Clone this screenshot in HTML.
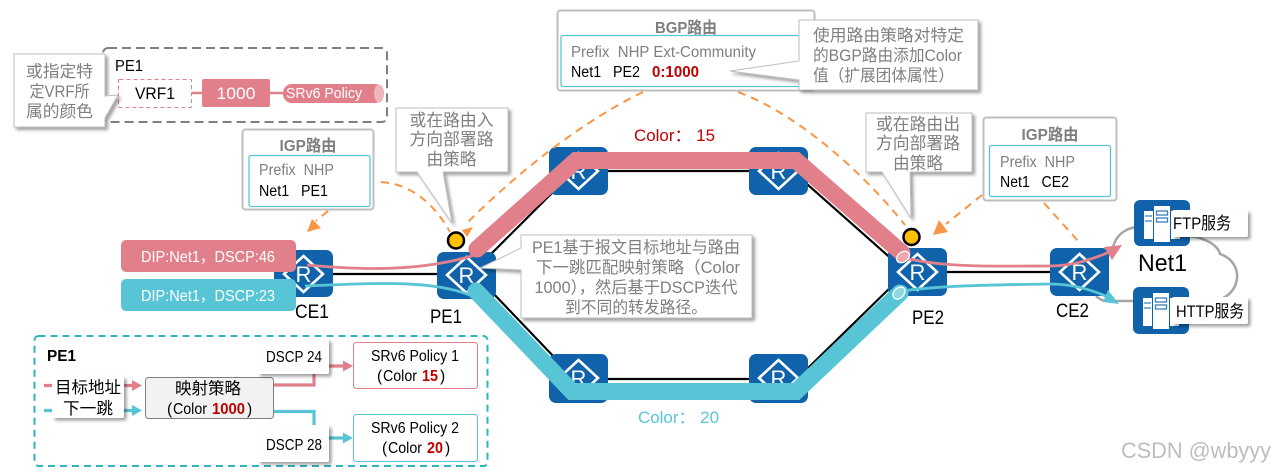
<!DOCTYPE html>
<html><head><meta charset="utf-8"><style>
html,body{margin:0;padding:0;background:#fff}
svg{display:block}
text{font-family:"Liberation Sans","Noto Sans CJK SC",sans-serif;white-space:pre}
.g{fill:#7f7f7f}
.k{fill:#000}
.w{fill:#fff}
.m{text-anchor:middle}
.b{font-weight:bold}
.r{fill:#c00000;font-weight:bold}
.or{fill:none;stroke:#f79646;stroke-width:2;stroke-dasharray:8 6}
</style></head><body>
<svg xmlns="http://www.w3.org/2000/svg" width="1275" height="472" viewBox="0 0 1275 472">
<defs>
<filter id="s" x="-20%" y="-20%" width="140%" height="140%"><feDropShadow dx="2.5" dy="2.5" stdDeviation="1.5" flood-color="#000" flood-opacity=".38"/></filter>
</defs>
<rect width="1275" height="472" fill="#fff"/>

<!-- cloud -->
<path d="M1113 247C1116 236 1124 229 1136 227M1190 236C1205 238 1218 245 1220 254C1232 258 1238 268 1237 278C1236 288 1231 294 1223 298M1133 301H1107C1103 301 1099 299 1096 296" fill="none" stroke="#a6a6a6" stroke-width="2.5"/>

<!-- black links -->
<g fill="none" stroke="#000" stroke-width="2.2">
<path d="M333 274H437"/>
<path d="M947 272H1050"/>
<path d="M490 255L555 190L565 171H795L808 185L895 262"/>
<path d="M490 290L555 358L565 379H795L808 368L895 283"/>
</g>

<!-- routers -->
<g fill="#1063ab">
<rect x="274" y="250" width="59" height="47" rx="7"/>
<rect x="437" y="252" width="59" height="47" rx="7"/>
<rect x="888" y="248" width="59" height="48" rx="7"/>
<rect x="1050" y="248" width="59" height="48" rx="7"/>
<rect x="549" y="147" width="59" height="48" rx="7"/>
<rect x="749" y="147" width="59" height="48" rx="7"/>
<rect x="549" y="354" width="59" height="49" rx="7"/>
<rect x="749" y="354" width="59" height="49" rx="7"/>
</g>
<g fill="none" stroke="#fff" stroke-width="2.6">
<path d="M303.500 256L323 274L303.500 292L284 274Z"/>
<path d="M466.500 257L486 275L466.500 293L447 275Z"/>
<path d="M917.500 254L937 272L917.500 290L898 272Z"/>
<path d="M1079.500 254L1099 272L1079.500 290L1060 272Z"/>
<path d="M578.500 153L598 171L578.500 189L559 171Z"/>
<path d="M778.500 153L798 171L778.500 189L759 171Z"/>
<path d="M578.500 360L598 378L578.500 396L559 378Z"/>
<path d="M778.500 360L798 378L778.500 396L759 378Z"/>
</g>
<g class="w" font-size="22">
<text x="303.500" y="282" class="w m">R</text>
<text x="466.500" y="283" class="w m">R</text>
<text x="917.500" y="280" class="w m">R</text>
<text x="1079.500" y="280" class="w m">R</text>
<text x="578.500" y="179" class="w m">R</text>
<text x="778.500" y="179" class="w m">R</text>
<text x="578.500" y="386" class="w m">R</text>
<text x="778.500" y="386" class="w m">R</text>
</g>

<!-- servers -->
<rect x="1134" y="200" width="56" height="46" rx="6" fill="#1063ab"/>
<rect x="1133" y="287" width="56" height="47" rx="6" fill="#1063ab"/>
<g fill="#fff">
<rect x="1144" y="211" width="9" height="28"/><rect x="1154" y="206" width="16" height="36"/><rect x="1171" y="211" width="9" height="28"/>
<rect x="1143" y="298" width="9" height="28"/><rect x="1153" y="293" width="16" height="36"/><rect x="1170" y="298" width="9" height="28"/>
</g>
<g fill="none" stroke="#3b7fbd" stroke-width="1.300">
<rect x="1156.500" y="211" width="11" height="4"/><rect x="1156.500" y="218" width="11" height="4"/>
<rect x="1155.500" y="298" width="11" height="4"/><rect x="1155.500" y="305" width="11" height="4"/>
<path d="M1145 216h7M1145 221h7M1144 303h7M1144 308h7"/>
</g>

<!-- thick bands -->
<path d="M477 249L576 160.500H796L902 253" fill="none" stroke="#e1808a" stroke-width="17" stroke-linejoin="miter" stroke-linecap="round"/>
<path d="M476 291L572 391.500H796L900 293" fill="none" stroke="#57c5d5" stroke-width="17" stroke-linejoin="miter" stroke-linecap="round"/>

<!-- thin flows -->
<path d="M307 265C360 270 420 272 475 255" fill="none" stroke="#e1808a" stroke-width="2.800"/>
<path d="M305 286C360 284 430 278 472 296" fill="none" stroke="#57c5d5" stroke-width="2.800"/>
<path d="M905 258C945 268 1000 266 1050 266C1075 266 1095 258 1112 251" fill="none" stroke="#e1808a" stroke-width="2.800"/>
<path d="M902 291C945 285 1000 285 1050 284C1075 284 1095 291 1110 298" fill="none" stroke="#57c5d5" stroke-width="2.800"/>
<polygon points="1122,245 1104,247 1112,260" fill="#e1808a"/>
<polygon points="1119,304 1103,302 1108,290" fill="#57c5d5"/>
<ellipse cx="903" cy="257" rx="7" ry="5" transform="rotate(-35 903 257)" fill="#eda9af" stroke="#fff" stroke-width="1.200"/>
<ellipse cx="899" cy="293" rx="7" ry="5" transform="rotate(-45 899 293)" fill="#8fd8e3" stroke="#fff" stroke-width="1.200"/>

<!-- dashed orange -->
<path class="or" d="M643 92C585 120 520 170 468 222"/>
<path class="or" d="M738 92C800 115 865 175 905 225"/>
<path class="or" d="M381 182C412 184 435 205 450 232"/>
<path class="or" d="M328 211L316 221"/>
<path class="or" d="M982 195L946 224"/>
<path class="or" d="M1044 203L1078 241"/>
<polygon points="307,232 312,219 321,228" fill="#f79646"/>
<polygon points="462,230 473,227 467,237" fill="#f79646"/>
<polygon points="933,235 948,232 939,220" fill="#f79646"/>

<!-- yellow dots -->
<circle cx="456" cy="240.500" r="8" fill="#ffc000" stroke="#000" stroke-width="2.500"/>
<circle cx="911.500" cy="237" r="8" fill="#ffc000" stroke="#000" stroke-width="2.500"/>

<!-- router labels -->
<g font-size="19">
<text x="295" y="318" class="k" textLength="34" lengthAdjust="spacingAndGlyphs">CE1</text>
<text x="430" y="323" class="k" textLength="32" lengthAdjust="spacingAndGlyphs">PE1</text>
<text x="912" y="324" class="k" textLength="32" lengthAdjust="spacingAndGlyphs">PE2</text>
<text x="1056" y="317" class="k" textLength="33" lengthAdjust="spacingAndGlyphs">CE2</text>
</g>
<text x="1138" y="271" class="k" font-size="24" textLength="49" lengthAdjust="spacingAndGlyphs">Net1</text>

<!-- server labels -->
<rect x="1172" y="210" width="76" height="27" rx="2" fill="#fff" filter="url(#s)"/>
<rect x="1172" y="297" width="76" height="27" rx="2" fill="#fff" filter="url(#s)"/>
<text x="1173" y="229" font-size="17" class="k" textLength="58" lengthAdjust="spacingAndGlyphs">FTP服务</text>
<text x="1176" y="317" font-size="17" class="k" textLength="68" lengthAdjust="spacingAndGlyphs">HTTP服务</text>

<!-- DIP pills -->
<rect x="121" y="240" width="175" height="32" rx="5" fill="#e1808a"/>
<rect x="121" y="279" width="175" height="32" rx="5" fill="#57c5d5"/>
<text x="141" y="262" font-size="15.500" class="w" textLength="134" lengthAdjust="spacingAndGlyphs">DIP:Net1，DSCP:46</text>
<text x="141" y="301" font-size="15.500" class="w" textLength="134" lengthAdjust="spacingAndGlyphs">DIP:Net1，DSCP:23</text>

<!-- top-left PE1 panel -->
<rect x="103" y="48" width="284" height="74" rx="5" fill="#fff" stroke="#7f7f7f" stroke-width="2" stroke-dasharray="9 5"/>
<text x="115" y="71" font-size="16" class="k" textLength="28" lengthAdjust="spacingAndGlyphs">PE1</text>
<path d="M192 93H283" stroke="#e1808a" stroke-width="2.500"/>
<rect x="118.500" y="79.500" width="73" height="28" rx="1" fill="#fff" stroke="#e1808a" stroke-dasharray="4 3"/>
<text x="155" y="99" font-size="16.500" class="k m" textLength="40" lengthAdjust="spacingAndGlyphs">VRF1</text>
<rect x="202" y="79" width="68" height="28" rx="2" fill="#e1808a"/>
<text x="236" y="99" font-size="17" class="w m" textLength="39" lengthAdjust="spacingAndGlyphs">1000</text>
<rect x="283" y="84" width="101" height="19" rx="9" fill="#e1808a"/>
<ellipse cx="379" cy="93.500" rx="5" ry="9" fill="#efb7bc"/>
<text x="286" y="98" font-size="15" class="w" textLength="76" lengthAdjust="spacingAndGlyphs">SRv6 Policy</text>

<polygon points="14,54 105,54 105,96 118,95 105,118 105,127 14,127" fill="#fff" stroke="#bfbfbf" filter="url(#s)"/>
<text x="59.500" y="77" font-size="16.500" class="g m" textLength="67" lengthAdjust="spacingAndGlyphs">或指定特</text>
<text x="59.500" y="97" font-size="16.500" class="g m" textLength="60" lengthAdjust="spacingAndGlyphs">定VRF所</text>
<text x="59.500" y="117" font-size="16.500" class="g m" textLength="67" lengthAdjust="spacingAndGlyphs">属的颜色</text>

<!-- IGP left -->
<rect x="242.500" y="129.500" width="131" height="80" rx="3" fill="#fff" stroke="#bfbfbf" stroke-width="2"/>
<text x="308" y="151" font-size="16" class="g m b" textLength="57" lengthAdjust="spacingAndGlyphs">IGP路由</text>
<rect x="249" y="155.500" width="121" height="51" rx="2" fill="#fff" stroke="#57c5d5" stroke-width="1.300"/>
<text x="259" y="175" font-size="15.500" class="g" textLength="75" lengthAdjust="spacingAndGlyphs">Prefix  NHP</text>
<text x="259" y="196" font-size="15.500" class="k" textLength="69" lengthAdjust="spacingAndGlyphs">Net1   PE1</text>

<!-- BGP -->
<rect x="557.500" y="10.500" width="257" height="80" rx="3" fill="#fff" stroke="#bfbfbf" stroke-width="2"/>
<text x="686" y="33" font-size="16" class="g m b" textLength="62" lengthAdjust="spacingAndGlyphs">BGP路由</text>
<rect x="561" y="35.500" width="250" height="51" rx="2" fill="#fff" stroke="#57c5d5" stroke-width="1.300"/>
<text x="571" y="57" font-size="15.500" class="g" textLength="185" lengthAdjust="spacingAndGlyphs">Prefix  NHP Ext-Community</text>
<text x="571" y="77" font-size="15.500" class="k" textLength="69" lengthAdjust="spacingAndGlyphs">Net1   PE2</text>
<text x="652" y="77" font-size="15.500" class="r" textLength="47" lengthAdjust="spacingAndGlyphs">0:1000</text>

<polygon points="799,20 978,20 978,90 799,90 799,80 730,71 799,61" fill="#fff" stroke="#bfbfbf" filter="url(#s)"/>
<text x="813" y="41" font-size="16.500" class="g" textLength="151" lengthAdjust="spacingAndGlyphs">使用路由策略对特定</text>
<text x="813" y="61" font-size="16.500" class="g" textLength="149" lengthAdjust="spacingAndGlyphs">的BGP路由添加Color</text>
<text x="813" y="81" font-size="16.500" class="g" textLength="141" lengthAdjust="spacingAndGlyphs">值（扩展团体属性）</text>

<!-- callout left -->
<polygon points="396,108 508,108 508,172 443,172 452,223 417,172 396,172" fill="#fff" stroke="#bfbfbf" filter="url(#s)"/>
<text x="451.500" y="126" font-size="16.800" class="g m" textLength="84" lengthAdjust="spacingAndGlyphs">或在路由入</text>
<text x="451.500" y="145" font-size="16.800" class="g m" textLength="84" lengthAdjust="spacingAndGlyphs">方向部署路</text>
<text x="451.500" y="165" font-size="16.800" class="g m" textLength="50" lengthAdjust="spacingAndGlyphs">由策略</text>

<!-- callout right -->
<polygon points="866,113 972,113 972,172 910,172 911,218 882,172 866,172" fill="#fff" stroke="#bfbfbf" filter="url(#s)"/>
<text x="918" y="130" font-size="16.800" class="g m" textLength="84" lengthAdjust="spacingAndGlyphs">或在路由出</text>
<text x="918" y="149" font-size="16.800" class="g m" textLength="84" lengthAdjust="spacingAndGlyphs">方向部署路</text>
<text x="918" y="169" font-size="16.800" class="g m" textLength="50" lengthAdjust="spacingAndGlyphs">由策略</text>

<!-- IGP right -->
<rect x="983.500" y="117.500" width="133" height="83" rx="3" fill="#fff" stroke="#bfbfbf" stroke-width="2"/>
<text x="1050" y="140" font-size="16" class="g m b" textLength="57" lengthAdjust="spacingAndGlyphs">IGP路由</text>
<rect x="989.500" y="145.500" width="121" height="51" rx="2" fill="#fff" stroke="#57c5d5" stroke-width="1.300"/>
<text x="1000" y="167" font-size="15.500" class="g" textLength="75" lengthAdjust="spacingAndGlyphs">Prefix  NHP</text>
<text x="1000" y="187" font-size="15.500" class="k" textLength="69" lengthAdjust="spacingAndGlyphs">Net1   CE2</text>

<!-- PE1 big callout -->
<polygon points="521,235 752,235 752,318 521,318 521,270 480,268 521,248" fill="#fff" stroke="#bfbfbf" filter="url(#s)"/>
<text x="636" y="253" font-size="16.500" class="g m" textLength="208" lengthAdjust="spacingAndGlyphs">PE1基于报文目标地址与路由</text>
<text x="638" y="273" font-size="16.500" class="g m" textLength="204" lengthAdjust="spacingAndGlyphs">下一跳匹配映射策略（Color</text>
<text x="636" y="293" font-size="16.500" class="g m" textLength="203" lengthAdjust="spacingAndGlyphs">1000），然后基于DSCP迭代</text>
<text x="636" y="313" font-size="16.500" class="g m" textLength="142" lengthAdjust="spacingAndGlyphs">到不同的转发路径。</text>

<!-- color labels -->
<text x="634" y="141" font-size="16.500" fill="#c00000" textLength="81" lengthAdjust="spacingAndGlyphs">Color： 15</text>
<text x="638" y="423" font-size="16.500" fill="#57c5d5" textLength="81" lengthAdjust="spacingAndGlyphs">Color： 20</text>

<!-- PE1 bottom panel -->
<rect x="34.500" y="336" width="453" height="130" rx="4" fill="#fff" stroke="#2fb3c0" stroke-width="2" stroke-dasharray="7 5"/>
<text x="47" y="361" font-size="15.500" class="k b" textLength="29" lengthAdjust="spacingAndGlyphs">PE1</text>

<g fill="none" stroke-width="3.200">
<path d="M44 385.500H134" stroke="#e1808a"/>
<path d="M44 410.500H134" stroke="#57c5d5"/>
<path d="M273 385H314V366H345" stroke="#e1808a"/>
<path d="M273 411.500H314V438H345" stroke="#57c5d5"/>
</g>
<polygon points="142,385.500 132,380 132,391" fill="#e1808a"/>
<polygon points="142,410.500 132,405 132,416" fill="#57c5d5"/>
<polygon points="353,366 343,360.500 343,371.500" fill="#e1808a"/>
<polygon points="353,438 343,432.500 343,443.500" fill="#57c5d5"/>

<rect x="52" y="376" width="72" height="42" rx="2" fill="#fff" filter="url(#s)"/>
<text x="88" y="393" font-size="16.500" class="k m" textLength="66" lengthAdjust="spacingAndGlyphs">目标地址</text>
<text x="88" y="414" font-size="16.500" class="k m" textLength="50" lengthAdjust="spacingAndGlyphs">下一跳</text>

<rect x="145.500" y="377.500" width="128" height="41" rx="3" fill="#f2f2f2" stroke="#7f7f7f"/>
<text x="208" y="394" font-size="16.500" class="k m" textLength="66" lengthAdjust="spacingAndGlyphs">映射策略</text>
<text x="167" y="414" font-size="15.500" class="k">(</text>
<text x="173" y="414" font-size="15.500" class="k" textLength="34" lengthAdjust="spacingAndGlyphs">Color</text>
<text x="212" y="414" font-size="15.500" class="r" textLength="33" lengthAdjust="spacingAndGlyphs">1000</text>
<text x="247" y="414" font-size="15.500" class="k">)</text>

<rect x="258" y="339" width="71" height="35" rx="2" fill="#fff" filter="url(#s)"/>
<rect x="258" y="425" width="71" height="37" rx="2" fill="#fff" filter="url(#s)"/>
<text x="266" y="362" font-size="15.500" class="k" textLength="56" lengthAdjust="spacingAndGlyphs">DSCP 24</text>
<text x="266" y="450" font-size="15.500" class="k" textLength="56" lengthAdjust="spacingAndGlyphs">DSCP 28</text>

<rect x="353.500" y="342.500" width="124" height="46" rx="3" fill="#fff" stroke="#e1808a"/>
<rect x="353.500" y="414.500" width="124" height="47" rx="3" fill="#fff" stroke="#57c5d5"/>
<text x="415" y="361" font-size="15.500" class="k m" textLength="88" lengthAdjust="spacingAndGlyphs">SRv6 Policy 1</text>
<text x="377" y="381" font-size="15.500" class="k">(</text>
<text x="383" y="381" font-size="15.500" class="k" textLength="34" lengthAdjust="spacingAndGlyphs">Color</text>
<text x="422" y="381" font-size="15.500" class="r" textLength="16" lengthAdjust="spacingAndGlyphs">15</text>
<text x="440" y="381" font-size="15.500" class="k">)</text>
<text x="415" y="433" font-size="15.500" class="k m" textLength="88" lengthAdjust="spacingAndGlyphs">SRv6 Policy 2</text>
<text x="382" y="453" font-size="15.500" class="k">(</text>
<text x="388" y="453" font-size="15.500" class="k" textLength="34" lengthAdjust="spacingAndGlyphs">Color</text>
<text x="427" y="453" font-size="15.500" class="r" textLength="16" lengthAdjust="spacingAndGlyphs">20</text>
<text x="445" y="453" font-size="15.500" class="k">)</text>

<!-- watermark -->
<text x="1121" y="458" font-size="22" fill="#bdbdbd" textLength="150" lengthAdjust="spacingAndGlyphs">CSDN @wbyyy</text>
</svg>
</body></html>
